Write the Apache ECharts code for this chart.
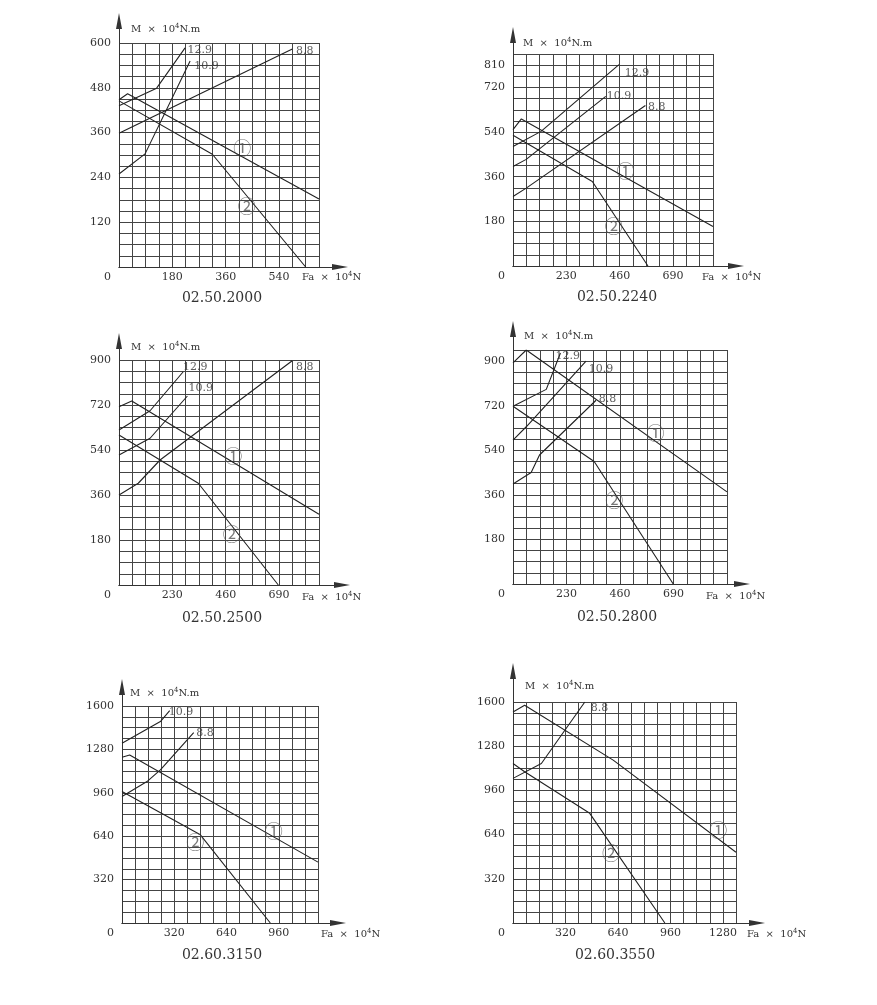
<!DOCTYPE html>
<html><head><meta charset="utf-8">
<script src="https://cdn.jsdelivr.net/npm/echarts@6/dist/echarts.min.js"></script>
<style>html,body{margin:0;padding:0;background:#fff}#c{width:877px;height:1005px}</style>
</head><body><div id="c"></div>
<script>
// ---------------- DATA ----------------
// Panel 1: 02.50.2000
const P1_TITLE = '02.50.2000';
const P1_X = [0, 675, 45];          // min, max, grid step
const P1_Y = [0, 600, 30];
const P1_XTICKS = [180, 360, 540];
const P1_YTICKS = [0, 120, 240, 360, 480, 600];
const P1_C1 = [[0, 448], [29, 464], [675, 182]];
const P1_C2 = [[0, 445], [315, 302], [630, 0]];
const P1_G129 = [[0, 432], [127, 479], [223, 587]];
const P1_G109 = [[0, 249], [88, 303], [240, 552]];
const P1_G88 = [[0, 358], [585, 584]];
const P1_NAMES = [[228, 582, '12.9'], [251, 539, '10.9'], [594, 579, '8.8']];
const P1_MARKS = [[416, 318, '①'], [431, 164, '②']];

// Panel 2: 02.50.2240
const P2_TITLE = '02.50.2240';
const P2_X = [0, 862.5, 57.5];
const P2_Y = [0, 855, 45];
const P2_XTICKS = [230, 460, 690];
const P2_YTICKS = [0, 180, 360, 540, 720, 810];
const P2_C1 = [[0, 550], [36, 593], [862.5, 159]];
const P2_C2 = [[0, 527], [342, 341], [582, 0]];
const P2_G129 = [[0, 482], [121, 543], [457, 812]];
const P2_G109 = [[0, 401], [57, 430], [400, 684]];
const P2_G88 = [[0, 280], [57, 314], [571, 647]];
const P2_NAMES = [[478, 779, '12.9'], [400, 687, '10.9'], [578, 641, '8.8']];
const P2_MARKS = [[485, 381, '①'], [435, 159, '②']];

// Panel 3: 02.50.2500
const P3_TITLE = '02.50.2500';
const P3_X = [0, 862.5, 57.5];
const P3_Y = [0, 900, 45];
const P3_XTICKS = [230, 460, 690];
const P3_YTICKS = [0, 180, 360, 540, 720, 900];
const P3_C1 = [[0, 713], [55, 736], [862.5, 283]];
const P3_C2 = [[0, 600], [342, 407], [687, 0]];
const P3_G129 = [[0, 620], [134, 697], [277, 853]];
const P3_G109 = [[0, 520], [134, 587], [295, 756]];
const P3_G88 = [[0, 360], [83, 407], [177, 500], [747, 897]];
const P3_NAMES = [[272, 873, '12.9'], [295, 787, '10.9'], [759, 873, '8.8']];
const P3_MARKS = [[493, 516, '①'], [486, 203, '②']];

// Panel 4: 02.50.2800
const P4_TITLE = '02.50.2800';
const P4_X = [0, 920, 57.5];
const P4_Y = [0, 945, 45];
const P4_XTICKS = [230, 460, 690];
const P4_YTICKS = [0, 180, 360, 540, 720, 900];
const P4_C1 = [[0, 893], [57, 945], [920, 372]];
const P4_C2 = [[0, 718], [349, 495], [689, 0]];
const P4_G129 = [[0, 718], [143, 786], [204, 933]];
const P4_G109 = [[0, 581], [57, 635], [314, 900]];
const P4_G88 = [[0, 404], [78, 450], [114, 521], [357, 742]];
const P4_NAMES = [[178, 922, '12.9'], [321, 869, '10.9'], [364, 748, '8.8']];
const P4_MARKS = [[613, 608, '①'], [435, 337, '②']];

// Panel 5: 02.60.3150
const P5_TITLE = '02.60.3150';
const P5_X = [0, 1200, 80];
const P5_Y = [0, 1600, 80];
const P5_XTICKS = [320, 640, 960];
const P5_YTICKS = [0, 320, 640, 960, 1280, 1600];
const P5_C1 = [[0, 1222], [47, 1239], [1200, 449]];
const P5_C2 = [[0, 969], [480, 650], [908, 0]];
const P5_G109 = [[0, 1325], [235, 1485], [292, 1566]];
const P5_G88 = [[0, 933], [153, 1043], [235, 1129], [439, 1404]];
const P5_NAMES = [[280, 1558, '10.9'], [449, 1399, '8.8']];
const P5_MARKS = [[929, 680, '①'], [449, 594, '②']];

// Panel 6: 02.60.3550
const P6_TITLE = '02.60.3550';
const P6_X = [0, 1360, 80];
const P6_Y = [0, 1600, 80];
const P6_XTICKS = [320, 640, 960, 1280];
const P6_YTICKS = [0, 320, 640, 960, 1280, 1600];
const P6_C1 = [[0, 1528], [71, 1576], [611, 1179], [1360, 512]];
const P6_C2 = [[0, 1155], [71, 1095], [468, 794], [926, 0]];
const P6_G88 = [[0, 1047], [173, 1155], [438, 1600]];
const P6_NAMES = [[468, 1552, '8.8']];
const P6_MARKS = [[1252, 674, '①'], [597, 505, '②']];

const Y_NAME = 'M  ×  10{s|4}N.m';
const X_NAME = 'Fa  ×  10{s|4}N';

// ---------------- ASSEMBLY ----------------
const panels = [
  {title: P1_TITLE, x: P1_X, y: P1_Y, xt: P1_XTICKS, yt: P1_YTICKS, lines: [P1_C1, P1_C2, P1_G129, P1_G109, P1_G88], names: P1_NAMES, marks: P1_MARKS},
  {title: P2_TITLE, x: P2_X, y: P2_Y, xt: P2_XTICKS, yt: P2_YTICKS, lines: [P2_C1, P2_C2, P2_G129, P2_G109, P2_G88], names: P2_NAMES, marks: P2_MARKS},
  {title: P3_TITLE, x: P3_X, y: P3_Y, xt: P3_XTICKS, yt: P3_YTICKS, lines: [P3_C1, P3_C2, P3_G129, P3_G109, P3_G88], names: P3_NAMES, marks: P3_MARKS},
  {title: P4_TITLE, x: P4_X, y: P4_Y, xt: P4_XTICKS, yt: P4_YTICKS, lines: [P4_C1, P4_C2, P4_G129, P4_G109, P4_G88], names: P4_NAMES, marks: P4_MARKS},
  {title: P5_TITLE, x: P5_X, y: P5_Y, xt: P5_XTICKS, yt: P5_YTICKS, lines: [P5_C1, P5_C2, P5_G109, P5_G88], names: P5_NAMES, marks: P5_MARKS},
  {title: P6_TITLE, x: P6_X, y: P6_Y, xt: P6_XTICKS, yt: P6_YTICKS, lines: [P6_C1, P6_C2, P6_G88], names: P6_NAMES, marks: P6_MARKS}
];

// layout (pixels): plot box, arrow tips, text anchors
const layout = [
  {l: 119, t: 43,  w: 200, h: 224, tipX: 348, tipY: 13,  sub: [222, 298], m: [131, 29],  fa: [302, 277]},
  {l: 513, t: 54,  w: 200, h: 212, tipX: 744, tipY: 27,  sub: [617, 297], m: [523, 43],  fa: [702, 277]},
  {l: 119, t: 360, w: 200, h: 225, tipX: 350, tipY: 333, sub: [222, 618], m: [131, 347], fa: [302, 597]},
  {l: 513, t: 350, w: 214, h: 234, tipX: 750, tipY: 321, sub: [617, 617], m: [524, 336], fa: [706, 596]},
  {l: 122, t: 706, w: 196, h: 217, tipX: 346, tipY: 679, sub: [222, 955], m: [130, 693], fa: [321, 934]},
  {l: 513, t: 702, w: 223, h: 221, tipX: 765, tipY: 663, sub: [615, 955], m: [525, 686], fa: [747, 934]}
];

const SERIF = 'DejaVu Serif';
const INK = '#333';
const GRIDC = '#444';
const has = (arr, v) => arr.some(t => Math.abs(t - v) < 1e-6);

const grids = [], xAxes = [], yAxes = [], series = [], graphics = [];

panels.forEach((p, i) => {
  const L = layout[i];
  grids.push({left: L.l, top: L.t, width: L.w, height: L.h});
  xAxes.push({
    type: 'value', gridIndex: i, min: p.x[0], max: p.x[1], interval: p.x[2],
    axisLine: {show: true, onZero: false, lineStyle: {color: GRIDC, width: 1}},
    axisTick: {show: false},
    splitLine: {show: true, lineStyle: {color: GRIDC, width: 1}},
    axisLabel: {show: true, margin: 5, color: INK, fontFamily: SERIF, fontSize: 11,
      hideOverlap: false, showMinLabel: true, showMaxLabel: true,
      formatter: v => (v !== 0 && has(p.xt, v)) ? String(v) : ''}
  });
  yAxes.push({
    type: 'value', gridIndex: i, min: p.y[0], max: p.y[1], interval: p.y[2],
    axisLine: {show: true, onZero: false, lineStyle: {color: GRIDC, width: 1}},
    axisTick: {show: false},
    splitLine: {show: true, lineStyle: {color: GRIDC, width: 1}},
    axisLabel: {show: true, margin: 8, color: INK, fontFamily: SERIF, fontSize: 11,
      hideOverlap: false, showMinLabel: true, showMaxLabel: true,
      formatter: v => v === 0 ? '{z|0}' : (has(p.yt, v) ? String(v) : ''),
      rich: {z: {padding: [20, 0, 0, 0], color: INK, fontFamily: SERIF, fontSize: 11}}}
  });
  p.lines.forEach(d => series.push({
    type: 'line', xAxisIndex: i, yAxisIndex: i, data: d, symbol: 'none',
    lineStyle: {color: '#222', width: 1.1}, silent: true, animation: false, z: 3
  }));
  series.push({
    type: 'scatter', xAxisIndex: i, yAxisIndex: i, symbolSize: 0, silent: true, animation: false, z: 4,
    data: p.names,
    label: {show: true, position: 'right', distance: 1, formatter: q => q.value[2],
      color: INK, fontFamily: SERIF, fontSize: 11}
  });
  series.push({
    type: 'scatter', xAxisIndex: i, yAxisIndex: i, symbolSize: 0, silent: true, animation: false, z: 4,
    data: p.marks,
    label: {show: true, position: 'inside', formatter: q => q.value[2],
      color: '#555', fontFamily: 'Noto Sans CJK SC', fontSize: 18}
  });
  graphics.push({type: 'text', x: L.sub[0], y: L.sub[1],
    style: {text: p.title, align: 'center', verticalAlign: 'middle', fill: INK, fontFamily: SERIF, fontSize: 14}});
  graphics.push({type: 'text', x: L.m[0], y: L.m[1],
    style: {text: Y_NAME, align: 'left', verticalAlign: 'middle', fill: INK, fontFamily: SERIF, fontSize: 10,
      rich: {s: {fontSize: 7, verticalAlign: 'top', fill: INK, fontFamily: SERIF, padding: [0, 0, 6, 0]}}}});
  graphics.push({type: 'text', x: L.fa[0], y: L.fa[1],
    style: {text: X_NAME, align: 'left', verticalAlign: 'middle', fill: INK, fontFamily: SERIF, fontSize: 10,
      rich: {s: {fontSize: 7, verticalAlign: 'top', fill: INK, fontFamily: SERIF, padding: [0, 0, 6, 0]}}}});
});

// arrow axes
panels.forEach((p, i) => {
  const L = layout[i];
  const top = L.tipY + 8;
  grids.push({left: L.l, top: top, width: L.tipX - 8 - L.l, height: L.t + L.h - top});
  const arrowAxis = {
    type: 'value', gridIndex: 6 + i, min: 0, max: 1,
    axisLine: {show: true, onZero: false, symbol: ['none', 'triangle'], symbolSize: [6, 16],
      lineStyle: {color: INK, width: 1}},
    axisTick: {show: false}, axisLabel: {show: false}, splitLine: {show: false}
  };
  xAxes.push(Object.assign({}, arrowAxis));
  yAxes.push(Object.assign({}, arrowAxis));
});

const chart = echarts.init(document.getElementById('c'), null, {renderer: 'canvas'});
chart.setOption({
  backgroundColor: '#fff',
  animation: false,
  grid: grids, xAxis: xAxes, yAxis: yAxes, series: series,
  graphic: graphics
});
</script></body></html>
